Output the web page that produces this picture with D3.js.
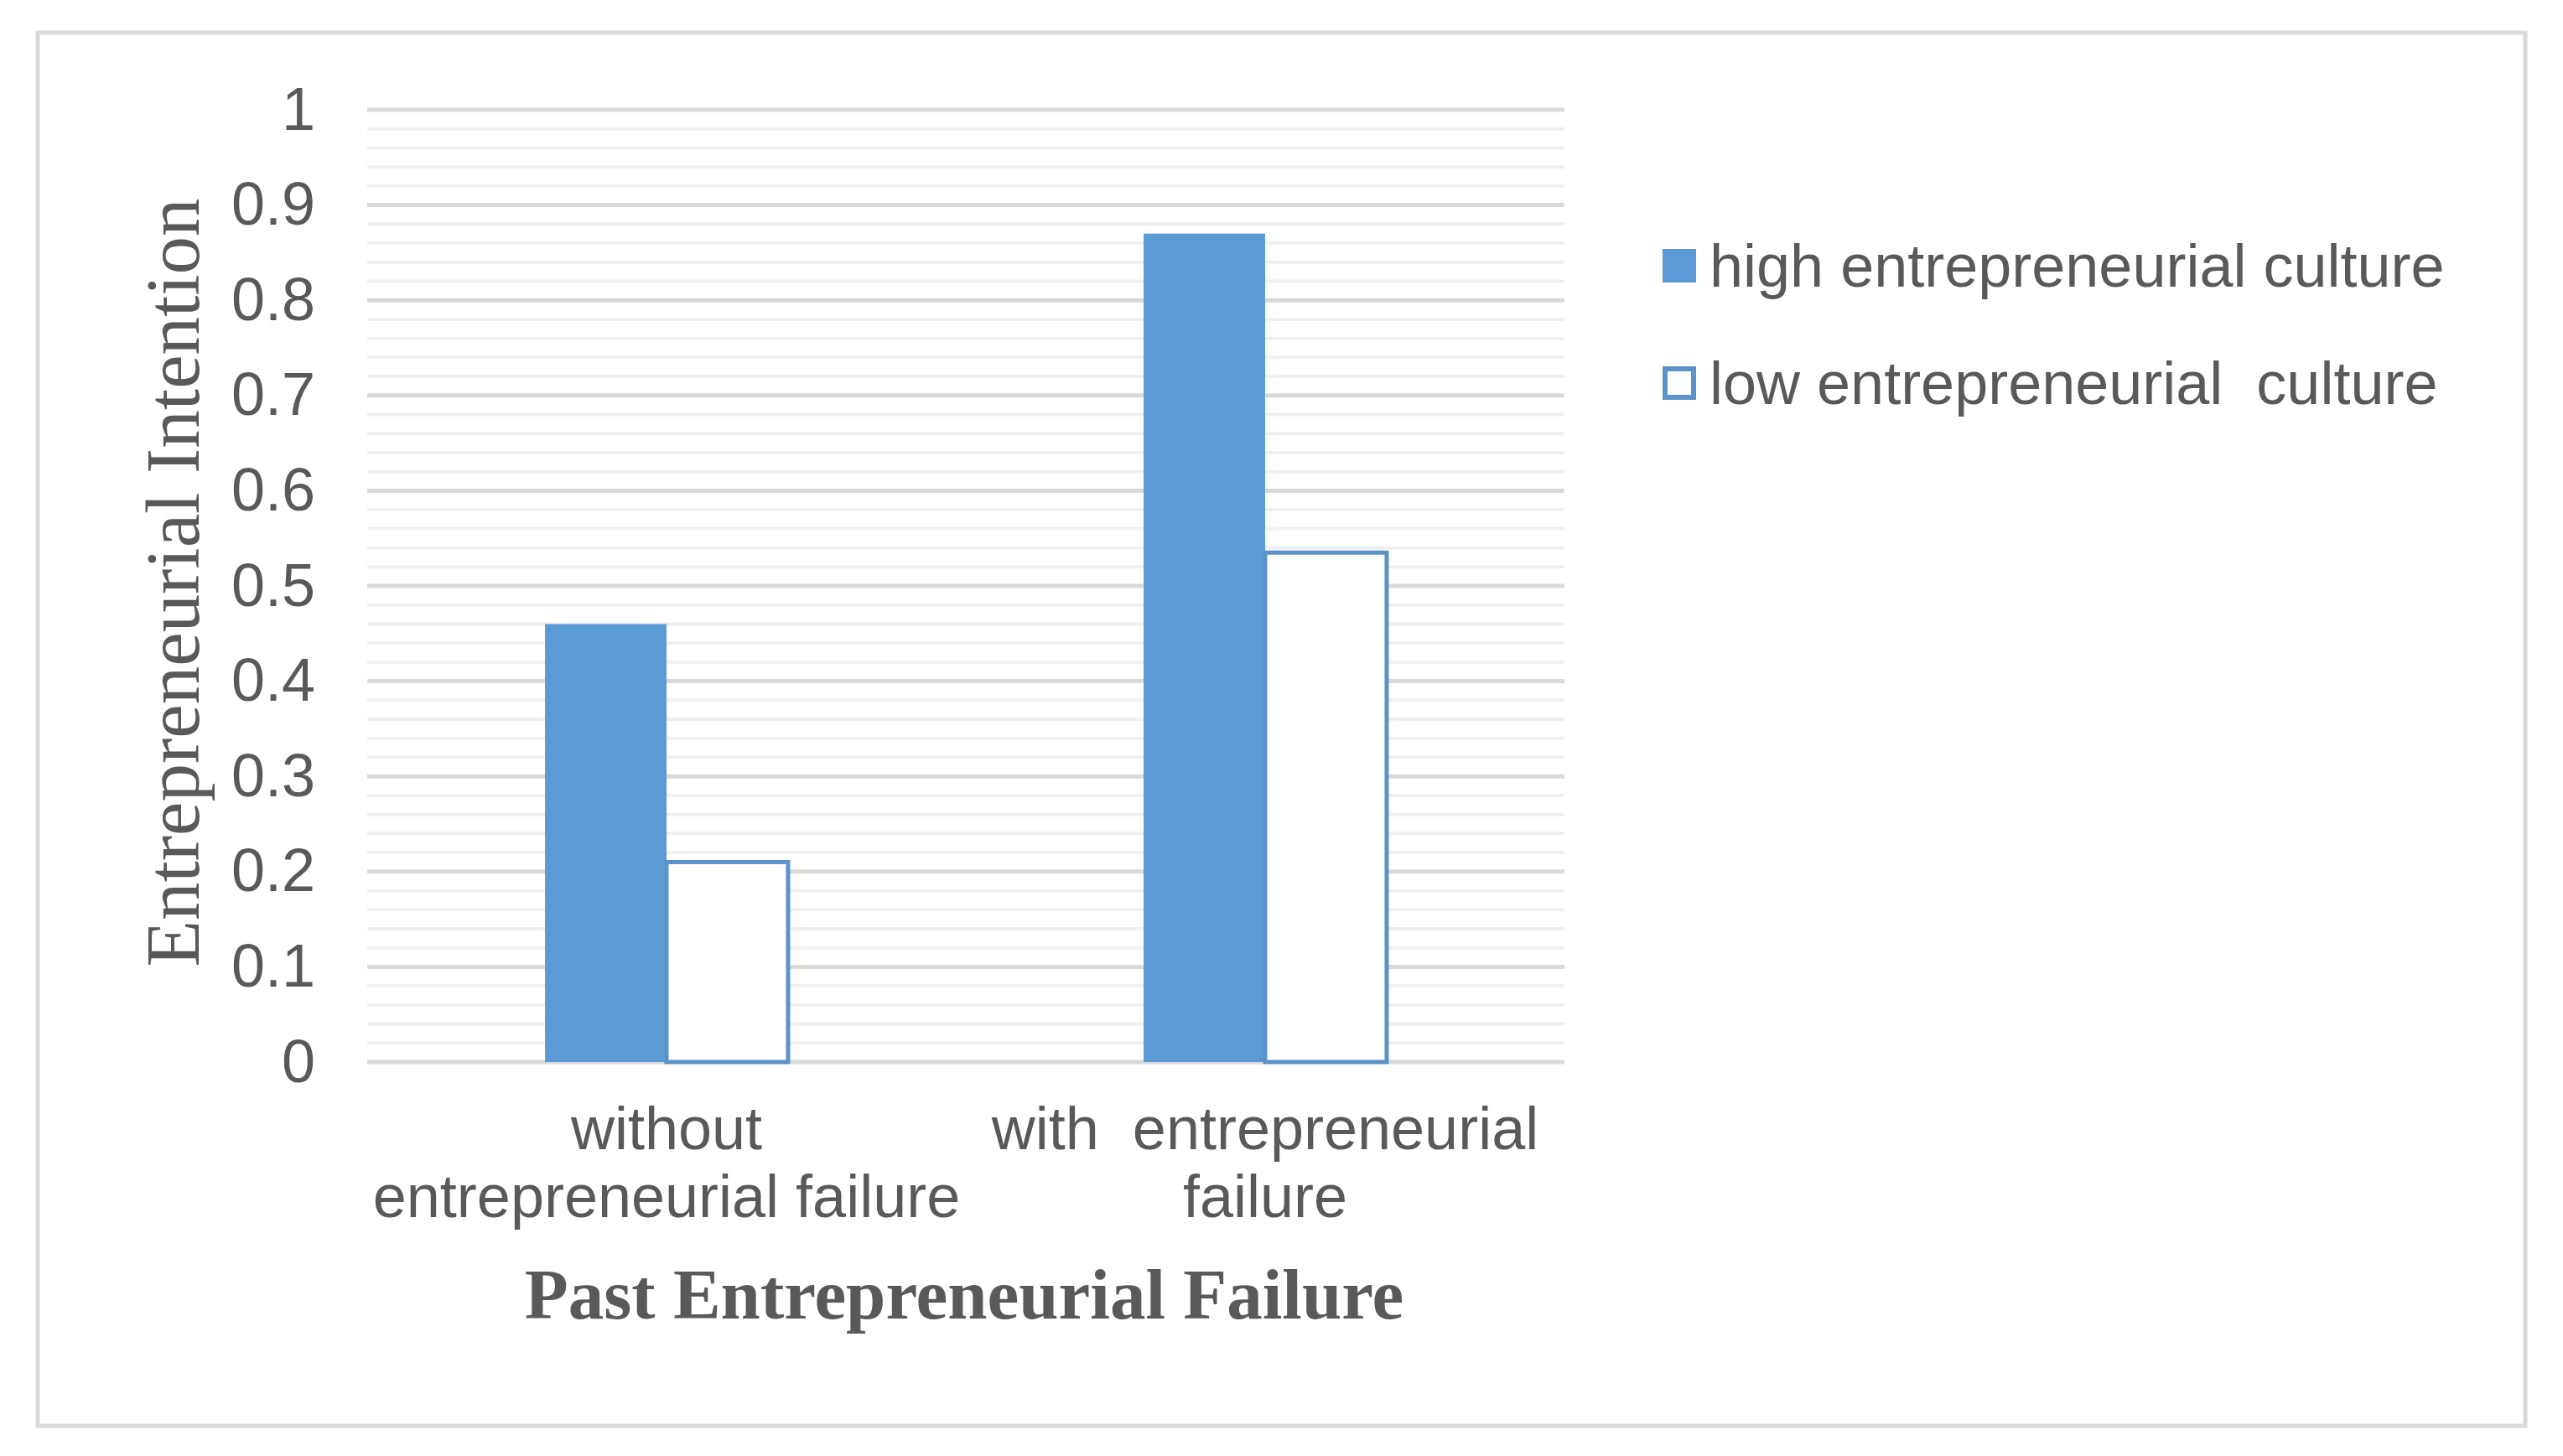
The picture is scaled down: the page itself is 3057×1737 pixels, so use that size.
<!DOCTYPE html>
<html>
<head>
<meta charset="utf-8">
<script src="https://cdn.jsdelivr.net/npm/d3@7"></script>
<style>
    body { margin: 0; background: #ffffff; }
    text { fill: #595959; }
</style>
</head>
<body>
<svg id="chart"></svg>
<script>
// categories on the x axis (and how Excel wrapped them)
const categories = ["without entrepreneurial failure", "with  entrepreneurial failure"];
const categoryLines = [["without", "entrepreneurial failure"], ["with  entrepreneurial", "failure"]];

// the two series
const seriesNames = ["high entrepreneurial culture", "low entrepreneurial  culture"];
const highValues = [0.46, 0.87];
const lowValues = [0.21, 0.535];

const yTickValues = [0, 0.1, 0.2, 0.3, 0.4, 0.5, 0.6, 0.7, 0.8, 0.9, 1];
const yTickLabels = ["0", "0.1", "0.2", "0.3", "0.4", "0.5", "0.6", "0.7", "0.8", "0.9", "1"];

const width = 3057, height = 1737;
const blue = "#5b9bd5";
const sans = "'Liberation Sans', Arial, sans-serif";
const serif = "'Liberation Serif', 'Times New Roman', serif";

let svg = d3.select("#chart")
    .attr("width", width)
    .attr("height", height);

/** outer chart frame */
svg.append("rect")
    .attr("x", 45)
    .attr("y", 39)
    .attr("width", 3012 - 45)
    .attr("height", 1701 - 39)
    .attr("fill", "#ffffff")
    .attr("stroke", "#d9d9d9")
    .attr("stroke-width", 5);

/** Setup the scales */
let x = d3.scaleBand()
    .domain(categories)
    .range([438, 1866])
    .paddingInner(0.594)
    .paddingOuter(0.297);

let xSub = d3.scaleBand()
    .domain(seriesNames)
    .range([0, x.bandwidth()]);

let y = d3.scaleLinear()
    .domain([0, 1])
    .range([1267, 131]);

// minor gridlines every 0.02
svg.append("g")
    .selectAll("line")
    .data(y.ticks(50).filter(d => Math.round(d * 50) % 5 !== 0))
    .join("line")
    .attr("x1", 438)
    .attr("x2", 1866)
    .attr("y1", d => y(d))
    .attr("y2", d => y(d))
    .attr("stroke", "#efefef")
    .attr("stroke-width", 4);

// major gridlines
svg.append("g")
    .selectAll("line")
    .data(yTickValues)
    .join("line")
    .attr("x1", 438)
    .attr("x2", 1866)
    .attr("y1", d => y(d))
    .attr("y2", d => y(d))
    .attr("stroke", "#d9d9d9")
    .attr("stroke-width", 5);

// y axis labels
let yAxis = svg.append("g")
    .attr("transform", "translate(438,0)")
    .call(d3.axisLeft(y)
        .tickValues(yTickValues)
        .tickFormat((d, i) => yTickLabels[i])
        .tickSize(0)
        .tickPadding(62));
yAxis.select(".domain").remove();
yAxis.selectAll("text")
    .attr("font-family", sans)
    .attr("font-size", 72)
    .attr("fill", "#595959");

// bars
let groups = svg.append("g")
    .selectAll("g")
    .data(categories)
    .join("g")
    .attr("transform", d => "translate(" + x(d) + ",0)");

groups.append("rect")
    .attr("x", xSub(seriesNames[0]))
    .attr("y", (d, i) => y(highValues[i]))
    .attr("width", xSub.bandwidth())
    .attr("height", (d, i) => y(0) - y(highValues[i]))
    .attr("fill", blue);

groups.append("rect")
    .attr("x", xSub(seriesNames[1]))
    .attr("y", (d, i) => y(lowValues[i]))
    .attr("width", xSub.bandwidth())
    .attr("height", (d, i) => y(0) - y(lowValues[i]))
    .attr("fill", "#ffffff")
    .attr("stroke", "#5b93c8")
    .attr("stroke-width", 5);

// category labels
let catText = svg.append("g")
    .selectAll("text")
    .data(categories)
    .join("text")
    .attr("text-anchor", "middle")
    .attr("font-family", sans)
    .attr("font-size", 72)
    .style("white-space", "pre");

catText.selectAll("tspan")
    .data((d, i) => categoryLines[i].map(line => ({line: line, c: d})))
    .join("tspan")
    .attr("x", d => x(d.c) + x.bandwidth() / 2)
    .attr("y", (d, j) => 1371 + j * 81)
    .text(d => d.line);

// axis titles
svg.append("text")
    .attr("x", 1150)
    .attr("y", 1573)
    .attr("text-anchor", "middle")
    .attr("font-family", serif)
    .attr("font-weight", "bold")
    .attr("font-size", 85)
    .text("Past Entrepreneurial Failure");

svg.append("text")
    .attr("transform", "translate(237,695) rotate(-90)")
    .attr("text-anchor", "middle")
    .attr("font-family", serif)
    .attr("font-size", 91)
    .text("Entrepreneurial Intention");

// legend
let legend = svg.append("g")
    .selectAll("g")
    .data(seriesNames)
    .join("g")
    .attr("transform", (d, i) => "translate(1983," + (297 + i * 140) + ")");

legend.append("rect")
    .attr("x", (d, i) => i === 0 ? 0 : 3)
    .attr("y", (d, i) => i === 0 ? 0 : 3)
    .attr("width", (d, i) => i === 0 ? 40 : 34)
    .attr("height", (d, i) => i === 0 ? 40 : 34)
    .attr("fill", (d, i) => i === 0 ? blue : "#ffffff")
    .attr("stroke", (d, i) => i === 0 ? "none" : "#5b93c8")
    .attr("stroke-width", 6);

legend.append("text")
    .attr("x", 56)
    .attr("y", 45)
    .attr("font-family", sans)
    .attr("font-size", 72)
    .style("white-space", "pre")
    .text(d => d);
</script>
</body>
</html>
